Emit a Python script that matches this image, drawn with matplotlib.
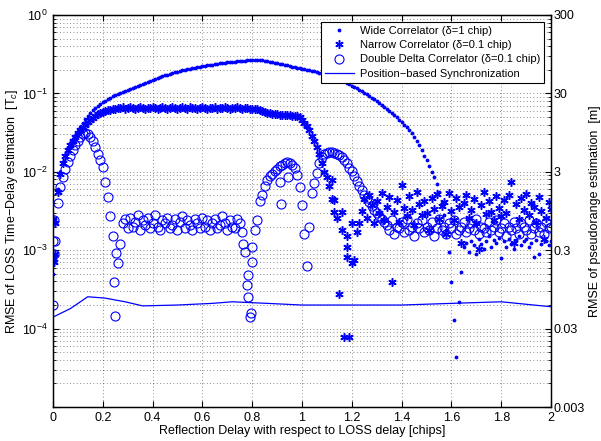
import matplotlib
matplotlib.use('Agg')
import matplotlib.pyplot as plt
from matplotlib.ticker import FixedLocator, FixedFormatter, LogLocator, NullFormatter
import numpy as np

plt.rcParams['font.family'] = ['Liberation Sans', 'DejaVu Sans']
plt.rcParams['mathtext.fontset'] = 'custom'
plt.rcParams['mathtext.rm'] = 'Liberation Sans'
plt.rcParams['mathtext.it'] = 'Liberation Sans:italic'

# reflection delay grid [chips], step 0.01 from 0 to 2
delay = np.round(np.arange(201) * 0.01, 2)

# Wide correlator (delta = 1 chip), RMSE [Tc]
wide = [
    5.0e-4, 2.5e-3, 6.0e-3, 1.0e-2, 1.35e-2, 1.65e-2, 2.0e-2, 2.3e-2, 2.6e-2, 2.9e-2,
    0.033, 0.037, 0.042, 0.047, 0.052, 0.057, 0.061, 0.065, 0.069, 0.074,
    0.078, 0.081, 0.085, 0.088, 0.092, 0.095, 0.098, 0.101, 0.104, 0.107,
    0.110, 0.113, 0.117, 0.120, 0.124, 0.128, 0.132, 0.137, 0.141, 0.146,
    0.150, 0.154, 0.158, 0.162, 0.166, 0.170, 0.174, 0.178, 0.182, 0.186,
    0.190, 0.193, 0.197, 0.200, 0.203, 0.206, 0.209, 0.212, 0.215, 0.218,
    0.221, 0.224, 0.227, 0.230, 0.233, 0.236, 0.239, 0.241, 0.244, 0.246,
    0.248, 0.250, 0.252, 0.254, 0.256, 0.258, 0.260, 0.262, 0.264, 0.266,
    0.267, 0.267, 0.266, 0.265, 0.263, 0.261, 0.258, 0.255, 0.251, 0.247,
    0.243, 0.239, 0.235, 0.231, 0.227, 0.223, 0.220, 0.217, 0.213, 0.210,
    0.207, 0.204, 0.201, 0.197, 0.194, 0.191, 0.188, 0.184, 0.181, 0.177,
    0.174, 0.170, 0.166, 0.161, 0.157, 0.152, 0.147, 0.142, 0.136, 0.131,
    0.126, 0.121, 0.117, 0.112, 0.107, 0.102, 0.097, 0.093, 0.088, 0.084,
    0.080, 0.076, 0.072, 0.068, 0.064, 0.060, 0.057, 0.053, 0.050, 0.046,
    0.043, 0.040, 0.037, 0.034, 0.031, 0.028, 0.025, 0.022, 0.019, 0.016,
    0.014, 0.012, 0.0100, 0.0085, 0.0070, 0.0055, 0.0040, 0.0028, 0.0018, 9.5e-4,
    3.9e-4, 1.3e-4, 4.3e-5, 2.2e-4, 5.3e-4, 1.1e-3, 1.25e-3, 9.5e-4, 1.3e-3, 1.15e-3,
    9.0e-4, 1.4e-3, 1.2e-3, 1.05e-3, 1.3e-3, 1.5e-3, 1.1e-3, 1.35e-3, 1.25e-3, 1.45e-3,
    8.0e-4, 1.3e-3, 1.1e-3, 1.4e-3, 1.2e-3, 1.05e-3, 1.35e-3, 1.5e-3, 1.15e-3, 1.3e-3,
    1.4e-3, 1.1e-3, 1.25e-3, 8.3e-4, 1.35e-3, 9.0e-4, 1.2e-3, 1.4e-3, 1.3e-3, 1.15e-3,
    1.3e-3,
]

# Narrow correlator (delta = 0.1 chip), values in 1e-3 Tc
narrow_m = [
    0.8, 2.2, 5.5, 9.5, 13, 16, 19, 22, 25, 28,
    31, 34, 37, 40, 43, 46, 49, 52, 54, 56,
    58, 60, 61, 62, 63, 64, 66, 65, 67, 64,
    66, 68, 65, 63, 66, 67, 65, 64, 66, 65,
    68, 66, 64, 65, 67, 66, 63, 65, 67, 66,
    64, 66, 68, 65, 64, 67, 65, 66, 64, 66,
    67, 65, 63, 66, 65, 67, 64, 66, 65, 68,
    66, 64, 65, 66, 67, 65, 64, 66, 65, 64,
    63, 64, 63, 62, 60, 58, 57, 56, 55, 54,
    54, 53, 53, 53, 53, 53, 52, 52, 52, 50,
    46, 42, 38, 34, 29, 25, 21, 17, 13, 10,
    8.5, 6.5, 4.5, 3.1, 2.6, 0.28, 1.8, 0.078, 1.1, 0.078,
    0.68, 0.76, 1.7, 2.2, 3.2, 4.5, 2.6, 5.0, 3.8, 2.2,
    4.2, 3.0, 5.3, 2.4, 3.6, 4.8, 0.39, 3.1, 4.4, 2.3,
    6.8, 3.5, 2.7, 4.9, 3.3, 2.1, 5.5, 3.9, 2.8, 4.3,
    3.0, 1.8, 4.6, 3.4, 5.2, 2.5, 3.7, 4.1, 1.6, 5.4,
    3.2, 2.4, 4.7, 3.6, 1.25, 4.0, 5.1, 2.6, 3.3, 4.5,
    2.2, 1.05, 3.8, 5.6, 2.9, 4.2, 3.1, 2.4, 4.9, 3.5,
    2.7, 4.4, 3.0, 5.0, 7.5, 1.25, 3.9, 2.5, 4.6, 3.3,
    5.2, 2.8, 4.0, 3.6, 2.3, 4.8, 3.2, 1.4, 2.6, 4.1,
    3.4,
]

# Double delta correlator (delta = 0.1 chip), values in 1e-3 Tc
ddelta_m = [
    0.20, 1.3, 4.0, 6.4, 8.6, 11, 13.5, 16, 19, 22,
    25, 28, 30, 31, 30, 28, 25, 21, 17, 14,
    11.5, 7.5, 4.8, 2.7, 1.5, 0.145, 0.68, 1.2, 2.2, 2.5,
    1.9, 2.6, 2.0, 2.3, 2.8, 1.8, 2.4, 2.1, 2.6, 1.9,
    2.2, 2.8, 2.0, 1.8, 2.4, 2.2, 2.6, 1.9, 2.1, 2.5,
    1.8, 2.3, 2.7, 1.9, 2.4, 2.1, 1.8, 2.5, 2.2, 1.9,
    2.6, 2.0, 2.4, 1.8, 2.2, 2.5, 1.9, 2.1, 2.7, 2.2,
    1.8, 2.4, 2.0, 1.9, 2.5, 2.2, 1.7, 0.95, 0.36, 0.14,
    0.71, 1.8, 2.4, 4.2, 5.0, 6.5, 7.9, 8.8, 9.5, 10.3,
    11.0, 11.7, 12.3, 12.8, 13.3, 13.0, 12.2, 11.2, 9.1, 6.4,
    3.8, 1.6, 0.63, 2.0, 5.3, 7.2, 9.6, 13, 15.5, 16.8,
    17.6, 18.0, 17.9, 17.6, 17.1, 16.5, 15.5, 14.3, 12.8, 11.2,
    10.2, 8.8, 7.6, 6.6, 5.8, 5.1, 4.6, 4.1, 3.7, 3.3,
    3.0, 2.7, 2.5, 2.3, 2.1, 1.8, 2.4, 1.6, 2.0, 1.9,
    2.3, 1.7, 2.5, 1.8, 2.0, 1.5, 2.2, 1.9, 2.4, 1.7,
    2.0, 1.8, 2.3, 1.5, 1.9, 2.5, 1.8, 2.0, 1.6, 2.2,
    1.9, 2.4, 1.6, 1.8, 2.0, 2.3, 1.7, 1.9, 2.2, 1.8,
    2.5, 1.6, 2.0, 1.9, 1.7, 2.3, 1.8, 2.0, 2.4, 1.7,
    1.9, 2.2, 1.5, 2.0, 1.8, 2.3, 1.9, 1.6, 2.2, 2.0,
    1.8, 2.4, 1.6, 1.9, 2.2, 1.7, 2.0, 1.6, 2.3, 1.9,
    2.0,
]

# a few extra scattered estimates (several runs at the same delay)
narrow_extra_x = [0.0, 0.005, 0.01, 1.12, 1.13, 1.16, 1.18, 1.18, 1.2]
narrow_extra_m = [2.5, 0.7, 0.9, 7.9, 4.4, 3.1, 0.83, 1.5, 2.2]
ddelta_extra_x = [0.0, 0.005, 0.005, 0.245, 0.255, 0.765, 0.785, 0.785, 0.795, 0.80, 0.91, 0.915, 0.945]
ddelta_extra_m = [1.3, 0.9, 2.4, 0.39, 0.92, 1.2, 0.48, 0.25, 0.16, 1.1, 7.5, 3.9, 8.6]

# Position-based synchronization
pos_x = [0, 0.07, 0.14, 0.21, 0.29, 0.36, 0.5, 0.64, 0.72, 0.86, 1.0, 1.2, 1.4, 1.6, 1.8, 2.0]
pos_y = [1.4e-4, 1.8e-4, 2.55e-4, 2.45e-4, 2.2e-4, 1.95e-4, 2.0e-4, 2.1e-4, 2.2e-4, 2.1e-4,
         2.0e-4, 2.0e-4, 2.0e-4, 2.1e-4, 2.2e-4, 1.9e-4]

chip_m = 300.0  # 1 chip in meters (right axis)

assert len(wide) == len(delay) and len(narrow_m) == len(delay) and len(ddelta_m) == len(delay), \
    (len(wide), len(narrow_m), len(ddelta_m))

narrow = np.array(narrow_m) * 1e-3
ddelta = np.array(ddelta_m) * 1e-3

fig = plt.figure(figsize=(6.01, 4.41), dpi=100)
ax = fig.add_axes([0.088, 0.077, 0.829, 0.889])

blue = (0, 0, 1)
asterisk = (6, 2, 0)

ax.plot(delay, wide, '.', color=blue, markersize=3.5, label='Wide Correlator (δ=1 chip)')
ax.plot(np.concatenate([delay, narrow_extra_x]),
        np.concatenate([narrow, np.array(narrow_extra_m) * 1e-3]),
        linestyle='none', marker=asterisk, color=blue, markersize=6, markeredgewidth=1.1,
        label='Narrow Correlator (δ=0.1 chip)')
ax.plot(np.concatenate([delay, ddelta_extra_x]),
        np.concatenate([ddelta, np.array(ddelta_extra_m) * 1e-3]),
        linestyle='none', marker='o', markerfacecolor='none', markeredgecolor=blue,
        markersize=6.5, markeredgewidth=0.8, label='Double Delta Correlator (δ=0.1 chip)')
ax.plot(pos_x, pos_y, '-', color=blue, linewidth=0.9, label='Position\u2212based Synchronization')

ax.set_yscale('log')
ax.set_xlim(0, 2)
ax.set_ylim(1e-5, 1)

ax.set_xticks(np.round(np.arange(0, 2.01, 0.2), 1))
ax.set_xticklabels(['0', '0.2', '0.4', '0.6', '0.8', '1', '1.2', '1.4', '1.6', '1.8', '2'])
ax.yaxis.set_major_locator(FixedLocator([1e-5, 1e-4, 1e-3, 1e-2, 1e-1, 1e0]))
ax.yaxis.set_major_formatter(FixedFormatter(['', r'$10^{-4}$', r'$10^{-3}$', r'$10^{-2}$',
                                             r'$10^{-1}$', r'$10^{0}$']))
ax.yaxis.set_minor_locator(LogLocator(base=10, subs=np.arange(2, 10), numticks=20))
ax.yaxis.set_minor_formatter(NullFormatter())

ax.tick_params(which='both', direction='in', top=True, labelsize=9)
ax.tick_params(which='major', length=4, right=False)
ax.tick_params(which='minor', length=2, right=False)

ax.grid(True, which='major', axis='both', linestyle=(0, (1, 3)), color='k', linewidth=0.6, alpha=0.6)
ax.grid(True, which='minor', axis='y', linestyle=(0, (1, 3)), color='k', linewidth=0.6, alpha=0.6)

for s in ax.spines.values():
    s.set_linewidth(1.0)

ax.set_xlabel('Reflection Delay with respect to LOSS delay [chips]', fontsize=9, labelpad=1)
ax.set_ylabel('RMSE of LOSS Time\u2212Delay estimation  [T$_c$]', fontsize=9, labelpad=2)

# right axis in meters
ax2 = ax.twinx()
ax2.set_yscale('log')
ax2.set_ylim(1e-5 * chip_m, 1 * chip_m)
ax2.yaxis.set_major_locator(FixedLocator([0.003, 0.03, 0.3, 3, 30, 300]))
ax2.yaxis.set_major_formatter(FixedFormatter(['0.003', '0.03', '0.3', '3', '30', '300']))
ax2.yaxis.set_minor_locator(LogLocator(base=10, subs=np.arange(2, 10) * 0.3, numticks=20))
ax2.yaxis.set_minor_formatter(NullFormatter())
ax2.tick_params(which='both', direction='in', labelsize=9, pad=2)
ax2.tick_params(which='major', length=4)
ax2.tick_params(which='minor', length=2)
ax2.set_ylabel('RMSE of pseudorange estimation  [m]', fontsize=9, labelpad=3)

leg = ax.legend(loc='upper right', fontsize=8, fancybox=False, framealpha=1,
                edgecolor='k', borderaxespad=0.6, handlelength=2.6, handletextpad=0.6,
                labelspacing=0.4, borderpad=0.35)
leg.get_frame().set_linewidth(0.8)

fig.savefig('out.png', dpi=100)
